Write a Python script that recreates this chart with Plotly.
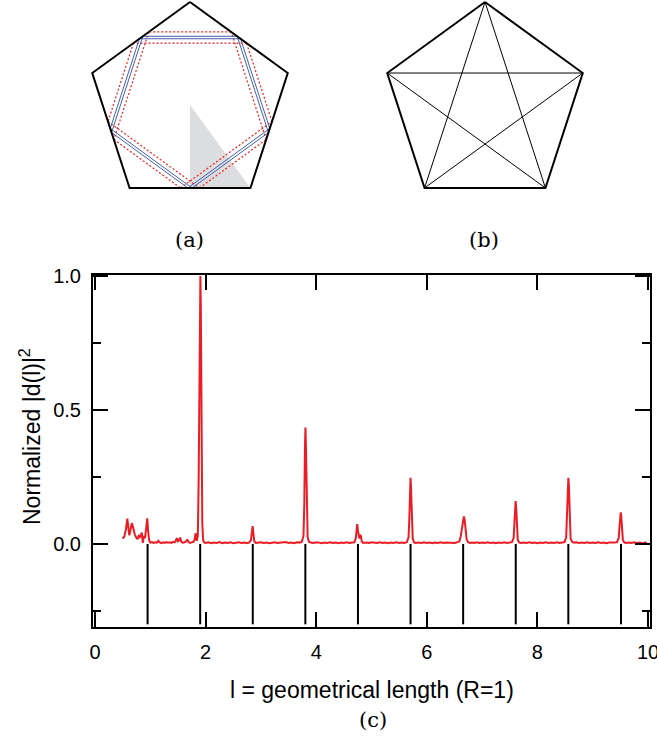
import numpy as np
import plotly.graph_objects as go

W, H = 657, 745

# Normalized squared Fourier amplitude |d(l)|^2 vs geometrical length l
length_l = [
    0.50, 0.53, 0.56, 0.585, 0.605, 0.62, 0.645, 0.665, 0.68, 0.70, 0.72, 0.745, 0.77, 0.79,
    0.81, 0.83, 0.845, 0.865, 0.885, 0.905, 0.925, 0.945, 0.96, 0.98, 1.00, 1.03, 1.06, 1.09,
    1.12, 1.145, 1.17, 1.20, 1.23, 1.26, 1.29, 1.32, 1.35, 1.38, 1.41, 1.44, 1.46, 1.48, 1.50,
    1.52, 1.54, 1.56, 1.59, 1.62, 1.65, 1.67, 1.69, 1.72, 1.75, 1.78, 1.80, 1.82, 1.84, 1.86,
    1.875, 1.888, 1.898, 1.906, 1.914, 1.926, 1.94, 1.955, 1.975,
    2.00, 2.05, 2.10, 2.15, 2.20, 2.25, 2.30, 2.35, 2.40, 2.45, 2.50, 2.55, 2.60, 2.65, 2.70,
    2.75, 2.79, 2.82, 2.838, 2.850, 2.862, 2.88, 2.91, 2.95, 3.00, 3.05, 3.10, 3.15, 3.20, 3.25,
    3.30, 3.35, 3.40, 3.45, 3.50, 3.55, 3.60, 3.65, 3.70, 3.74, 3.77, 3.785, 3.797, 3.806, 3.815,
    3.827, 3.845, 3.87, 3.90,
    3.95, 4.00, 4.05, 4.10, 4.15, 4.20, 4.25, 4.30, 4.35, 4.40, 4.45, 4.50, 4.55, 4.60, 4.65,
    4.69, 4.715, 4.730, 4.742, 4.755, 4.768, 4.782, 4.795, 4.808, 4.825, 4.85, 4.90, 4.95, 5.00,
    5.05, 5.10, 5.15, 5.20, 5.25, 5.30, 5.35, 5.40, 5.45, 5.50, 5.55, 5.60, 5.64, 5.67, 5.685,
    5.697, 5.706, 5.715, 5.727, 5.745, 5.77, 5.80,
    5.85, 5.90, 5.95, 6.00, 6.05, 6.10, 6.15, 6.20, 6.25, 6.30, 6.35, 6.40, 6.45, 6.50, 6.55,
    6.59, 6.615, 6.635, 6.655, 6.670, 6.685, 6.700, 6.720, 6.745, 6.78, 6.82, 6.86, 6.90, 6.95,
    7.00, 7.05, 7.10, 7.15, 7.20, 7.25, 7.30, 7.35, 7.40, 7.45, 7.50, 7.54, 7.57, 7.585, 7.597,
    7.606, 7.615, 7.627, 7.645, 7.67, 7.70,
    7.75, 7.80, 7.85, 7.90, 7.95, 8.00, 8.05, 8.10, 8.15, 8.20, 8.25, 8.30, 8.35, 8.40, 8.45,
    8.49, 8.52, 8.537, 8.550, 8.560, 8.570, 8.583, 8.60, 8.63, 8.66, 8.70, 8.75, 8.80, 8.85,
    8.90, 8.95, 9.00, 9.05, 9.10, 9.15, 9.20, 9.25, 9.30, 9.35, 9.40, 9.44, 9.47, 9.487, 9.498,
    9.507, 9.516, 9.528, 9.545, 9.57, 9.60, 9.65, 9.70, 9.75, 9.80, 9.85, 9.90, 9.95, 9.98,
]
intensity = [
    0.020, 0.028, 0.055, 0.095, 0.060, 0.032, 0.055, 0.078, 0.070, 0.048, 0.035, 0.024, 0.018, 0.030,
    0.026, 0.034, 0.042, 0.004, 0.030, 0.022, 0.055, 0.096, 0.050, 0.012, 0.005, 0.007, 0.004, 0.006,
    0.005, 0.012, 0.006, 0.003, 0.006, 0.004, 0.007, 0.005, 0.006, 0.004, 0.008, 0.006, 0.012, 0.022, 0.010,
    0.014, 0.024, 0.008, 0.005, 0.006, 0.010, 0.017, 0.007, 0.004, 0.006, 0.008, 0.015, 0.040, 0.012, 0.030,
    0.250, 0.720, 0.980, 1.000, 0.880, 0.400, 0.080, 0.015, 0.006,
    0.004, 0.006, 0.003, 0.005, 0.004, 0.007, 0.003, 0.005, 0.004, 0.006, 0.003, 0.004, 0.006, 0.004, 0.005,
    0.003, 0.006, 0.014, 0.045, 0.067, 0.045, 0.010, 0.004, 0.005, 0.006, 0.004, 0.005, 0.003, 0.005, 0.006,
    0.004, 0.005, 0.004, 0.007, 0.004, 0.005, 0.003, 0.006, 0.005, 0.008, 0.030, 0.150, 0.370, 0.435, 0.360,
    0.140, 0.025, 0.008, 0.005,
    0.004, 0.006, 0.005, 0.003, 0.005, 0.004, 0.006, 0.004, 0.005, 0.003, 0.005, 0.004, 0.006, 0.004, 0.005,
    0.006, 0.020, 0.055, 0.074, 0.050, 0.024, 0.020, 0.034, 0.030, 0.008, 0.004, 0.005, 0.004, 0.006,
    0.005, 0.004, 0.006, 0.004, 0.005, 0.003, 0.005, 0.004, 0.006, 0.004, 0.005, 0.004, 0.007, 0.025, 0.100,
    0.215, 0.247, 0.210, 0.100, 0.020, 0.006, 0.004,
    0.005, 0.004, 0.006, 0.004, 0.005, 0.003, 0.005, 0.004, 0.006, 0.004, 0.005, 0.004, 0.005, 0.004, 0.006,
    0.010, 0.030, 0.065, 0.095, 0.103, 0.090, 0.055, 0.018, 0.007, 0.004, 0.005, 0.004, 0.006, 0.004,
    0.005, 0.004, 0.006, 0.004, 0.005, 0.003, 0.005, 0.004, 0.006, 0.004, 0.005, 0.007, 0.022, 0.075, 0.145,
    0.160, 0.140, 0.070, 0.016, 0.006, 0.004,
    0.005, 0.004, 0.006, 0.004, 0.005, 0.003, 0.005, 0.004, 0.006, 0.004, 0.005, 0.004, 0.006, 0.004, 0.005,
    0.007, 0.025, 0.110, 0.215, 0.247, 0.215, 0.100, 0.020, 0.008, 0.005, 0.006, 0.004, 0.005, 0.004,
    0.006, 0.004, 0.005, 0.004, 0.006, 0.004, 0.005, 0.003, 0.005, 0.004, 0.005, 0.007, 0.022, 0.070, 0.108,
    0.118, 0.105, 0.060, 0.015, 0.006, 0.004, 0.005, 0.004, 0.006, 0.004, 0.005, 0.003, 0.005, 0.004,
]

# Lengths of the periodic orbit families (R = 1)
orbit_lengths = [0.951, 1.902, 2.853, 3.804, 4.755, 5.706, 6.657, 7.608, 8.559, 9.511]
stick_bottom = -0.30

x_tick_vals = [0, 2, 4, 6, 8, 10]
y_tick_vals = [0.0, 0.5, 1.0]
y_tick_text = ["0.0", "0.5", "1.0"]

# Regular pentagon, circumradius 1, one vertex on top
vertex_angles_deg = [90, 162, 234, 306, 18]
blue_offsets = [-0.012, 0.012]
red_offsets = [-0.054, 0.054]

RED = "rgb(236,28,36)"
BLUE = "rgb(70,95,175)"
GRAY = "rgb(220,221,223)"
SANS = "Liberation Sans, Arial, sans-serif"
SERIF = "DejaVu Serif, Liberation Serif, serif"


def px_x(p):
    return p / W


def px_y(p):
    return 1 - p / H


V = np.array([[np.cos(np.radians(a)), np.sin(np.radians(a))] for a in vertex_angles_deg])
NV = len(V)
MID = np.array([(V[k] + V[(k + 1) % NV]) / 2 for k in range(NV)])


def line_cross(p, d, a, b):
    e = b - a
    A = np.array([[d[0], -e[0]], [d[1], -e[1]]])
    t, _ = np.linalg.solve(A, a - p)
    return p + t * d


def orbit_segments(offset):
    """Segments parallel to the midpoint (Fagnano) orbit, shifted by offset."""
    xs, ys = [], []
    for k in range(NV):
        p0, p1 = MID[k], MID[(k + 1) % NV]
        d = p1 - p0
        n = np.array([-d[1], d[0]]) / np.linalg.norm(d)
        if np.dot(n, V[(k + 1) % NV] - p0) < 0:
            n = -n
        p = p0 + offset * n
        q0 = line_cross(p, d, V[k], V[(k + 1) % NV])
        q1 = line_cross(p, d, V[(k + 1) % NV], V[(k + 2) % NV])
        xs += [q0[0], q1[0], None]
        ys += [q0[1], q1[1], None]
    return xs, ys


outline_x = list(V[:, 0]) + [V[0, 0]]
outline_y = list(V[:, 1]) + [V[0, 1]]
star_order = [0, 2, 4, 1, 3, 0]

fig = go.Figure()

# ---- panel (c): spectrum ----
stick_x, stick_y = [], []
for L in orbit_lengths:
    stick_x += [L, L, None]
    stick_y += [0, stick_bottom, None]
fig.add_trace(go.Scatter(x=stick_x, y=stick_y, mode="lines",
                         line=dict(color="black", width=2), hoverinfo="skip"))
fig.add_trace(go.Scatter(x=length_l, y=intensity, mode="lines",
                         line=dict(color=RED, width=2)))

# ---- panel (a): pentagon with orbit families ----
fig.add_trace(go.Scatter(x=[0, MID[2, 0], V[3, 0], 0], y=[0, MID[2, 1], V[3, 1], 0],
                         fill="toself", fillcolor=GRAY, mode="lines",
                         line=dict(width=0, color=GRAY), xaxis="x2", yaxis="y2"))
for off in red_offsets:
    xs, ys = orbit_segments(off)
    fig.add_trace(go.Scatter(x=xs, y=ys, mode="lines", xaxis="x2", yaxis="y2",
                             line=dict(color="rgb(240,30,30)", width=1.2, dash="2px,2px")))
for off in blue_offsets:
    xs, ys = orbit_segments(off)
    fig.add_trace(go.Scatter(x=xs, y=ys, mode="lines", xaxis="x2", yaxis="y2",
                             line=dict(color=BLUE, width=1)))
fig.add_trace(go.Scatter(x=outline_x, y=outline_y, mode="lines", xaxis="x2", yaxis="y2",
                         line=dict(color="black", width=2)))

# ---- panel (b): pentagon with its diagonals ----
fig.add_trace(go.Scatter(x=[V[i, 0] for i in star_order], y=[V[i, 1] for i in star_order],
                         mode="lines", xaxis="x3", yaxis="y3",
                         line=dict(color="black", width=1)))
fig.add_trace(go.Scatter(x=outline_x, y=outline_y, mode="lines", xaxis="x3", yaxis="y3",
                         line=dict(color="black", width=2)))

# pentagon panel placement (pixel centres, radius in pixels)
R_PX = 102.8
CY = 104.8
Y_LO, Y_HI = -0.9, CY / R_PX
XR = 1.1


def pent_axes(cx, suffix):
    xd = [px_x(cx - XR * R_PX), px_x(cx + XR * R_PX)]
    yd = [px_y(CY - Y_LO * R_PX), 1.0]
    hidden = dict(visible=False, showgrid=False, zeroline=False, automargin=False)
    return (dict(domain=xd, range=[-XR, XR], anchor="y" + suffix, **hidden),
            dict(domain=yd, range=[Y_LO, Y_HI], anchor="x" + suffix, **hidden))


xa2, ya2 = pent_axes(190, "2")
xa3, ya3 = pent_axes(485, "3")

axis_common = dict(showline=True, linecolor="black", linewidth=2, mirror="allticks",
                   ticks="inside", ticklen=15, tickwidth=2, tickcolor="black",
                   showgrid=False, zeroline=False, automargin=False,
                   ticklabeloverflow="allow",
                   tickfont=dict(family=SANS, size=20, color="black"))


def label(text, x, y, font, angle=0):
    return dict(text=text, x=px_x(x), y=px_y(y), xref="paper", yref="paper",
                xanchor="center", yanchor="middle", showarrow=False,
                textangle=angle, font=font)


title_font = dict(family=SANS, size=23, color="black")
panel_font = dict(family=SERIF, size=21, color="black")

fig.update_layout(
    template="none",
    width=W, height=H,
    margin=dict(l=0, r=0, t=0, b=0, autoexpand=False),
    paper_bgcolor="white", plot_bgcolor="white",
    showlegend=False,
    xaxis=dict(domain=[px_x(93), px_x(650)], range=[-0.036, 10.036],
               tickvals=x_tick_vals, ticklabelstandoff=6, **axis_common),
    yaxis=dict(domain=[px_y(627), px_y(275)], range=[-0.31, 1.004],
               tickvals=y_tick_vals, ticktext=y_tick_text, ticklabelstandoff=6,
               minor=dict(dtick=0.25, tick0=0, ticks="inside", ticklen=8,
                          tickwidth=2, tickcolor="black"),
               **axis_common),
    xaxis2=xa2, yaxis2=ya2, xaxis3=xa3, yaxis3=ya3,
    annotations=[
        label("l = geometrical length (R=1)", 371.5, 690, title_font),
        label("Normalized |d(l)|<sup>2</sup>", 30, 437, title_font, angle=-90),
        label("(a)", 189, 240, panel_font),
        label("(b)", 484, 240, panel_font),
        label("(c)", 373, 720, panel_font),
    ],
)

fig.write_html("out.html")
